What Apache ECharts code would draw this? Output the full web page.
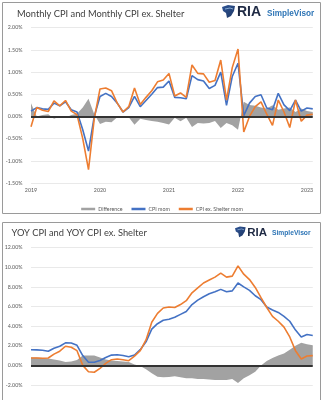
<!DOCTYPE html>
<html><head><meta charset="utf-8">
<script src="https://cdn.jsdelivr.net/npm/echarts@6/dist/echarts.min.js"></script>
<style>html,body{margin:0;padding:0;background:#fff}#c{width:324px;height:400px}</style>
</head><body><div id="c"></div>
<script>
// Tick labels
const yearTicks = ['2019', '2020', '2021', '2022', '2023'];
const monthsPerTick = 12;
const periodCount = 50;

// Top panel: monthly % change
const cpiMom = [0.12,0.2,0.17,0.16,0.3,0.24,0.33,0.15,0.1,-0.3,
  -0.78,0.0,0.45,0.52,0.45,0.3,0.1,0.2,0.45,0.22,
  0.36,0.5,0.65,0.66,0.8,0.43,0.42,0.4,0.92,0.83,
  0.8,0.63,0.7,1.0,0.25,0.9,1.2,0.02,0.3,0.45,
  0.49,0.19,0.15,0.52,0.26,0.13,0.37,0.12,0.19,0.17];
const cpiExShelterMom = [-0.23,0.2,0.14,0.11,0.35,0.24,0.36,0.12,0.04,-0.5,
  -1.2,-0.05,0.62,0.64,0.58,0.3,0.1,0.22,0.64,0.27,
  0.43,0.58,0.78,0.82,0.97,0.46,0.53,0.43,1.16,0.97,
  0.96,0.77,0.81,1.27,0.37,1.1,1.52,-0.35,0.0,0.22,
  0.33,0.05,-0.2,0.37,0.1,-0.25,0.37,-0.11,0.03,0.05];
const diffMom = [0.3,0.0,0.03,0.05,-0.05,0.0,-0.03,0.03,0.06,0.2,
  0.4,0.05,-0.17,-0.12,-0.13,-0.02,0.0,-0.02,-0.19,-0.05,
  -0.08,-0.1,-0.12,-0.15,-0.18,-0.03,-0.11,-0.03,-0.24,-0.15,
  -0.16,-0.15,-0.1,-0.26,-0.15,-0.2,-0.3,0.33,0.26,0.24,
  0.2,0.18,0.25,0.15,0.18,0.2,0.1,0.18,0.12,0.1];

// Bottom panel: year-over-year % change
const cpiYoy = [1.6,1.58,1.55,1.45,1.75,1.95,2.3,2.28,2.05,1.0,
  0.32,0.32,0.5,0.8,1.05,1.08,1.0,0.88,1.05,1.6,
  2.4,3.7,4.25,4.6,4.7,4.9,5.2,5.5,6.2,6.65,
  7.0,7.3,7.5,7.75,7.5,7.6,8.4,8.0,7.65,7.1,
  6.7,5.95,5.65,5.4,5.0,4.5,3.6,2.9,3.15,3.05];
const cpiExShelterYoy = [0.75,0.75,0.73,0.75,1.15,1.45,1.95,1.85,1.5,0.0,
  -0.65,-0.7,-0.3,0.2,0.58,0.65,0.58,0.48,0.95,1.5,
  2.6,4.4,5.3,5.85,5.95,5.9,6.2,6.6,7.4,7.9,
  8.4,8.7,9.0,9.4,9.0,9.1,10.15,9.3,8.75,7.95,
  6.9,5.9,5.0,4.5,3.9,2.9,1.5,0.65,0.95,1.0];
const diffYoy = [0.8,0.8,0.75,0.7,0.6,0.5,0.35,0.4,0.55,1.0,
  1.0,1.0,0.8,0.6,0.5,0.45,0.4,0.35,0.1,-0.05,
  -0.4,-0.8,-1.15,-1.2,-1.18,-1.12,-1.2,-1.3,-1.3,-1.4,
  -1.4,-1.45,-1.5,-1.5,-1.5,-1.4,-1.8,-1.3,-1.0,-0.65,
  0.0,0.45,0.75,1.0,1.2,1.6,2.0,2.3,2.15,2.05];

const categories = [];
for (let i = 0; i < periodCount; i++) categories.push('P' + i);

const BLUE = '#4472c4', ORANGE = '#ed7d31', GRAY = '#a2a2a2';
const LBL = '#595959';
const FONT = 'Lato, "Liberation Sans", sans-serif';

const chart = echarts.init(document.getElementById('c'), null, {renderer: 'canvas'});

function xAxisCfg(gi, showLabels) {
  return {
    type: 'category', gridIndex: gi, data: categories, boundaryGap: false,
    axisLine: {show: false}, axisTick: {show: false},
    axisLabel: {
      show: showLabels, fontSize: 5.3, color: LBL, margin: 5, fontFamily: FONT,
      interval: (idx) => idx % monthsPerTick === 0,
      formatter: (v, idx) => yearTicks[idx / monthsPerTick] || ''
    },
    splitLine: {show: false}
  };
}
function yAxisCfg(gi, min, max, interval) {
  return {
    type: 'value', gridIndex: gi, min, max, interval,
    axisLine: {show: false}, axisTick: {show: false},
    axisLabel: {fontSize: 5.3, color: LBL, margin: 8.5, fontFamily: FONT,
      formatter: (v) => v.toFixed(2) + '%'},
    splitLine: {lineStyle: {color: '#e3e3e3', width: 0.8}}
  };
}
function zeroLine() {
  return {silent: true, symbol: 'none', label: {show: false},
    lineStyle: {color: '#333', width: 2, type: 'solid'},
    data: [{yAxis: 0}]};
}
function areaSeries(gi, data, withZero) {
  const s = {name: 'Difference', type: 'line', xAxisIndex: gi, yAxisIndex: gi, data,
    symbol: 'none', lineStyle: {width: 0}, itemStyle: {color: GRAY},
    areaStyle: {color: GRAY, opacity: 1}, z: 1, animation: false};
  if (withZero) s.markLine = zeroLine();
  return s;
}
function lineSeries(gi, name, data, color) {
  return {name, type: 'line', xAxisIndex: gi, yAxisIndex: gi, data,
    symbol: 'none', lineStyle: {width: 1.6, color}, itemStyle: {color}, z: 3, animation: false};
}

function logo(x, y, s) {
  // small shield mark + wordmark
  return {
    type: 'group', x, y, scaleX: s, scaleY: s,
    children: [
      {type: 'polygon', shape: {points: [[0,2],[6,0],[13,1],[12,6],[9,11],[5,13],[4,8],[1,6]]},
        style: {fill: new echarts.graphic.LinearGradient(0,0,1,1,[{offset:0,color:'#2f5597'},{offset:1,color:'#1f3864'}])}},
      {type: 'polyline', shape: {points: [[3,4],[8,3],[11,4]]}, style: {stroke: '#9dc3e6', lineWidth: 0.8, fill: null}},
      {type: 'text', x: 15, y: 7.5, style: {text: 'RIA', fill: '#1f2a44',
        font: 'bold 14px "Liberation Sans", Arial, sans-serif', verticalAlign: 'middle'}},
      {type: 'text', x: 45, y: 8.5, style: {text: 'SimpleVisor', fill: '#2e75b6',
        font: 'bold 8.2px "Liberation Sans", Arial, sans-serif', verticalAlign: 'middle'}}
    ]
  };
}

chart.setOption({
  animation: false,
  backgroundColor: '#fff',
  grid: [
    {left: 31, right: 11.25, top: 27.7, bottom: 217},
    {left: 31, right: 11.25, top: 247.7, bottom: 15}
  ],
  xAxis: [xAxisCfg(0, true), xAxisCfg(1, false)],
  yAxis: [yAxisCfg(0, -1.5, 2, 0.5), yAxisCfg(1, -2, 12, 2)],
  legend: {
    top: 201.5, left: 'center', itemWidth: 14, itemHeight: 2.5, itemGap: 9,
    textStyle: {fontSize: 5.3, color: LBL, fontFamily: FONT, padding: [0,0,0,-2]},
    data: [
      {name: 'Difference', icon: 'rect'},
      {name: 'CPI mom', icon: 'rect'},
      {name: 'CPI ex. Shelter mom', icon: 'rect'}
    ]
  },
  series: [
    areaSeries(0, diffMom, true),
    lineSeries(0, 'CPI mom', cpiMom, BLUE),
    lineSeries(0, 'CPI ex. Shelter mom', cpiExShelterMom, ORANGE),
    areaSeries(1, diffYoy, true),
    lineSeries(1, 'CPI yoy', cpiYoy, BLUE),
    lineSeries(1, 'CPI ex. Shelter yoy', cpiExShelterYoy, ORANGE)
  ],
  graphic: [
    {type: 'rect', shape: {x: 2.5, y: 2.5, width: 318, height: 211}, style: {fill: null, stroke: '#9a9a9a', lineWidth: 1}, silent: true},
    {type: 'rect', shape: {x: 2.5, y: 222.5, width: 318, height: 190}, style: {fill: null, stroke: '#9a9a9a', lineWidth: 1}, silent: true},
    {type: 'text', x: 17, y: 14, style: {text: 'Monthly CPI and Monthly CPI ex. Shelter', fill: '#404040',
      font: '9.3px ' + FONT, verticalAlign: 'middle'}},
    {type: 'text', x: 11.5, y: 233, style: {text: 'YOY CPI and YOY CPI ex. Shelter', fill: '#404040',
      font: '9.3px ' + FONT, verticalAlign: 'middle'}},
    logo(222, 5, 1),
    logo(235, 226.5, 0.82)
  ]
});
</script></body></html>
